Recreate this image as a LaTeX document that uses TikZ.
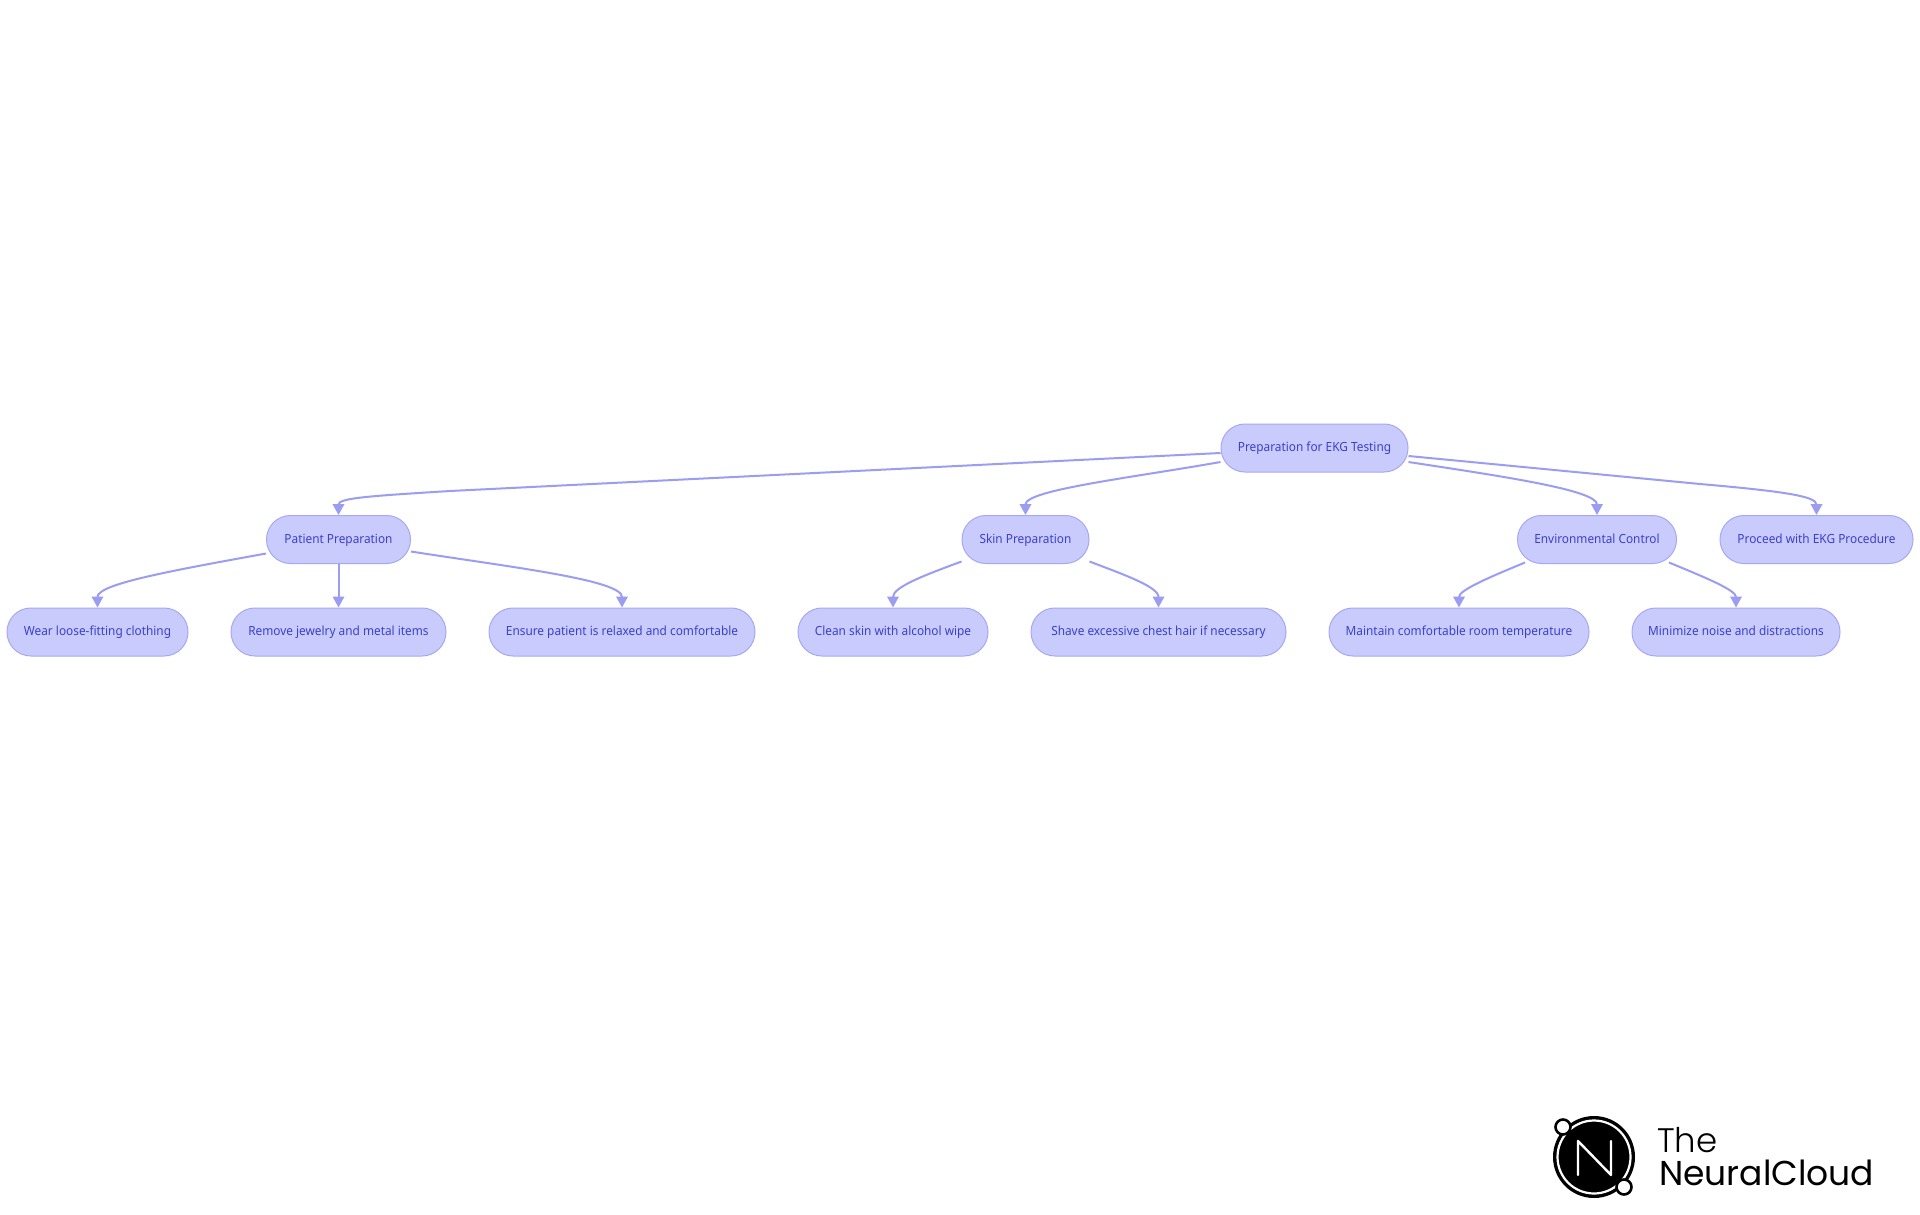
\documentclass[tikz,border=0pt]{standalone}
\usepackage{fontspec}
\usetikzlibrary{arrows.meta,calc}
\setmainfont[FakeStretch=0.94]{Noto Sans}
\newfontfamily\logothin[UprightFont=* Light]{Poppins}
\newfontfamily\logoreg{Poppins}
\definecolor{nodefill}{HTML}{C9CBFD}
\definecolor{nodeline}{HTML}{A6A9F2}
\definecolor{nodetext}{HTML}{3C3FC9}
\definecolor{edgecol}{HTML}{9A9DF2}
\tikzset{
  box/.style={draw=nodeline,fill=nodefill,line width=1pt,rounded corners=23.9pt,minimum height=48pt,inner sep=0pt,text height=9.5pt,text depth=2.5pt,text=nodetext,font=\fontsize{12.6}{15}\selectfont,anchor=center},
  edge/.style={draw=edgecol,line width=2pt,-{Triangle[length=11pt,width=11.5pt]}},
  logotext/.style={anchor=base west,inner sep=0pt,text=black}
}
\begin{document}
\begin{tikzpicture}[x=1pt,y=-1pt]
\useasboundingbox (0,0) rectangle (1920,1215);
\fill[white] (0,0) rectangle (1920,1215);
\node[box,minimum width=187pt] (root) at (1314.5,448) {Preparation for EKG Testing};
\node[box,minimum width=144pt] (patient) at (338.5,539.5) {Patient Preparation};
\node[box,minimum width=127pt] (skin) at (1025.5,539.5) {Skin Preparation};
\node[box,minimum width=159pt] (env) at (1597,539.5) {Environmental Control};
\node[box,minimum width=193pt] (proceed) at (1816.5,539.5) {Proceed with EKG Procedure};
\node[box,minimum width=181pt] (wear) at (97.5,632) {Wear loose-fitting clothing};
\node[box,minimum width=215pt] (remove) at (338.5,632) {Remove jewelry and metal items};
\node[box,minimum width=266pt] (ensure) at (622,632) {Ensure patient is relaxed and comfortable};
\node[box,minimum width=190pt] (clean) at (893,632) {Clean skin with alcohol wipe};
\node[box,minimum width=255pt] (shave) at (1158.5,632) {Shave excessive chest hair if necessary};
\node[box,minimum width=260pt] (maintain) at (1459,632) {Maintain comfortable room temperature};
\node[box,minimum width=208pt] (minimize) at (1736,632) {Minimize noise and distractions};

\draw[edge] ($(root.west)+(0,5)$) -- (450,491) .. controls (370,496) and (338.5,498) .. (patient.north);
\draw[edge] ($(root.west)+(0,14)$) .. controls (1130,478) and (1025.5,490) .. (skin.north);
\draw[edge] ($(root.east)+(0,14)$) .. controls (1500,476) and (1597,490) .. (env.north);
\draw[edge] ($(root.east)+(0,8)$) -- (1700,484) .. controls (1780,491) and (1816.5,496) .. (proceed.north);
\draw[edge] ($(patient.west)+(0,14)$) .. controls (170,571) and (97.5,584) .. (wear.north);
\draw[edge] (patient.south) -- (remove.north);
\draw[edge] ($(patient.east)+(0,12)$) .. controls (510,567) and (622,580) .. (ensure.north);
\draw[edge] ($(skin.west)+(0,22)$) .. controls (925,575) and (893,587) .. (clean.north);
\draw[edge] ($(skin.east)+(0,22)$) .. controls (1125,575) and (1158.5,587) .. (shave.north);
\draw[edge] ($(env.west)+(8,23)$) .. controls (1490,577) and (1459,590) .. (maintain.north);
\draw[edge] ($(env.east)+(-8,23)$) .. controls (1704,577) and (1736,590) .. (minimize.north);

% logo
\fill[black] (1594,1157) circle (41);
\draw[white,line width=2.2pt] (1594,1157) circle (36.5);
\draw[white,line width=2.4pt,line join=round,line cap=round] (1578,1175) -- (1578,1141) -- (1611,1175) -- (1611,1141);
\draw[black,fill=white,line width=2.6pt] (1563,1127) circle (7.5);
\draw[black,fill=white,line width=2.6pt] (1624,1187) circle (7.5);
\node[logotext,font=\logothin\fontsize{34}{40}\selectfont] (lthe) at (1657,1152) {The};
\node[logotext,font=\logoreg\fontsize{34.5}{40}\selectfont] (lnc) at (1659,1185) {NeuralCloud};
\end{tikzpicture}
\end{document}
